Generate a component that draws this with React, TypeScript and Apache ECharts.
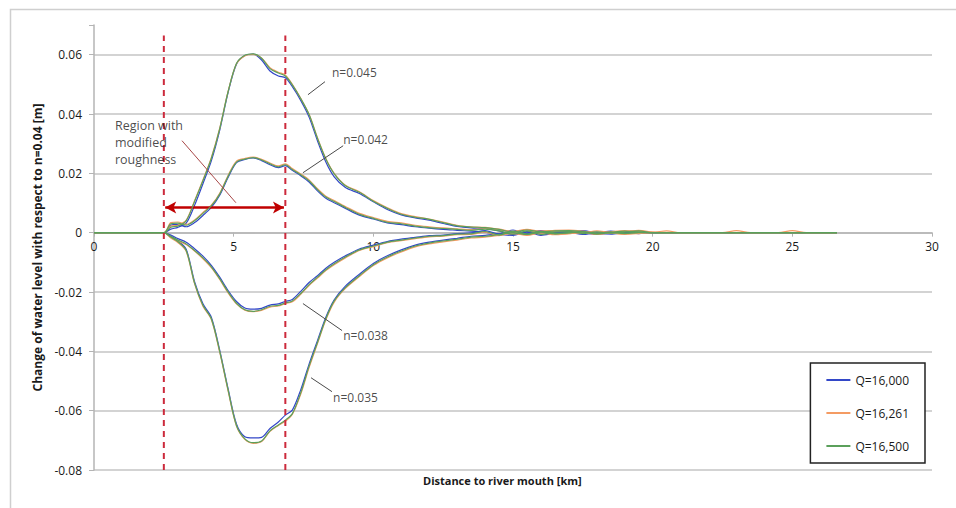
import React, { useEffect, useRef } from "react";
import * as echarts from "echarts";

// Distance to river mouth [km]
const X = [0, 2.5, 2.75, 3.0, 3.3, 3.6, 3.9, 4.2, 4.5, 4.8, 5.1, 5.4, 5.7, 6.0, 6.3, 6.6, 6.85, 7.1, 7.4, 7.7, 8.0, 8.3, 8.6, 9.0, 9.5, 10.0, 10.5, 11.0, 11.5, 12.0, 12.5, 13.0, 13.5, 14.0, 14.5, 15.0, 15.5, 16.0, 16.5, 17.0, 17.5, 18.0, 18.5, 19.0, 19.5, 20.0, 20.5, 21.0, 22.5, 23.0, 23.5, 24.5, 25.0, 25.5, 26.6];

// n = 0.045
const n045_Q16000 = [0, 0, 0.0012, 0.0018, 0.0032, 0.0092, 0.0165, 0.0242, 0.0345, 0.0472, 0.0568, 0.0597, 0.0602, 0.0582, 0.0545, 0.0528, 0.0522, 0.0492, 0.0446, 0.039, 0.031, 0.0238, 0.0188, 0.0152, 0.0132, 0.0104, 0.0078, 0.006, 0.005, 0.0042, 0.0031, 0.0021, 0.0016, 0.0014, 0.0006, -0.0006, 0.0004, -0.0004, 0.0003, 0.0004, 0.0001, -0.0006, -0.0002, 0.0003, -0.0003, 0, 0, 0, 0, 0, 0, 0, 0, 0, 0];
const n045_Q16261 = [0, 0, 0.0022, 0.0025, 0.0042, 0.0108, 0.0178, 0.0253, 0.0352, 0.0476, 0.0569, 0.0596, 0.0601, 0.0589, 0.0556, 0.0541, 0.0532, 0.05, 0.0453, 0.0399, 0.032, 0.025, 0.02, 0.016, 0.0138, 0.0108, 0.0084, 0.0064, 0.0054, 0.0046, 0.0036, 0.0025, 0.002, 0.0018, 0.0012, 0.0004, 0.0011, 0.0005, 0.0008, 0.0009, 0.0005, -0.0002, 0.0003, 0.0007, 0.0004, 0.0002, 0.0006, 0, 0, 0.0007, 0, 0, 0.0007, 0, 0];
const n045_Q16500 = [0, 0, 0.0018, 0.0022, 0.004, 0.0105, 0.0175, 0.025, 0.035, 0.0475, 0.057, 0.0598, 0.0603, 0.0588, 0.0553, 0.0538, 0.0528, 0.0498, 0.0452, 0.0398, 0.0318, 0.0248, 0.0198, 0.0158, 0.0136, 0.0106, 0.0082, 0.0062, 0.0052, 0.0045, 0.0034, 0.0023, 0.0019, 0.0017, 0.0011, 0.0002, 0.0009, 0.0003, 0.0006, 0.0007, 0.0003, -0.0004, 0.0001, 0.0005, 0.0002, 0, 0, 0, 0, 0, 0, 0, 0, 0, 0];

// n = 0.042
const n042_Q16000 = [0, 0, 0.0025, 0.0028, 0.002, 0.0034, 0.0058, 0.0085, 0.0126, 0.0186, 0.0236, 0.0247, 0.0252, 0.0243, 0.0229, 0.0219, 0.0226, 0.021, 0.0192, 0.0171, 0.0141, 0.0116, 0.0101, 0.0082, 0.0059, 0.0046, 0.0033, 0.0027, 0.002, 0.0015, 0.0011, 0.0008, 0.0005, 0.0002, -0.0006, -0.0009, 0.0002, -0.0009, -0.0002, 0.0001, -0.0006, 0, -0.0005, 0, 0.0002, 0, 0, 0, 0, 0, 0, 0, 0, 0, 0];
const n042_Q16261 = [0, 0, 0.0034, 0.0036, 0.0028, 0.0043, 0.0068, 0.0093, 0.0133, 0.0193, 0.0241, 0.025, 0.0255, 0.0247, 0.0235, 0.0225, 0.0232, 0.0216, 0.0198, 0.0178, 0.0148, 0.0123, 0.0108, 0.0088, 0.0065, 0.0051, 0.0038, 0.0033, 0.0025, 0.002, 0.0016, 0.0013, 0.001, 0.0014, 0.0009, 0.0003, 0.001, -0.0002, 0.0005, 0.0007, 0, 0.0006, 0.0001, 0.0004, 0.0008, 0.0002, 0, 0, 0, 0, 0, 0, 0, 0, 0];
const n042_Q16500 = [0, 0, 0.003, 0.0032, 0.0025, 0.004, 0.0065, 0.009, 0.013, 0.019, 0.0238, 0.0248, 0.0253, 0.0245, 0.0232, 0.0222, 0.0229, 0.0213, 0.0195, 0.0175, 0.0145, 0.012, 0.0105, 0.0085, 0.0062, 0.0048, 0.0035, 0.003, 0.0022, 0.0017, 0.0014, 0.0011, 0.0008, 0.0012, 0.0006, -0.0005, 0.0006, -0.0006, 0.0002, 0.0004, -0.0003, 0.0003, -0.0002, 0.0002, 0.0006, 0, 0, 0, 0, 0, 0, 0, 0, 0, 0];

// n = 0.038
const n038_Q16000 = [0, 0, -0.0008, -0.002, -0.0032, -0.0054, -0.0079, -0.011, -0.015, -0.0195, -0.0232, -0.0254, -0.0258, -0.0255, -0.0244, -0.024, -0.0232, -0.0225, -0.0198, -0.0168, -0.0145, -0.012, -0.01, -0.0078, -0.0055, -0.0042, -0.003, -0.0022, -0.0016, -0.001, -0.0008, -0.0003, -0.0001, 0.0007, -0.0004, 0.0009, -0.0002, 0.0007, 0, 0.0002, 0.0006, -0.0001, 0.0004, 0, 0.0004, 0, 0, 0, 0, 0, 0, 0, 0, 0, 0];
const n038_Q16261 = [0, 0, -0.0015, -0.0028, -0.004, -0.0062, -0.0088, -0.0118, -0.0158, -0.0203, -0.024, -0.0261, -0.0266, -0.0262, -0.0251, -0.0247, -0.0239, -0.0233, -0.0208, -0.0178, -0.0153, -0.0128, -0.0108, -0.0085, -0.006, -0.0047, -0.0034, -0.0027, -0.002, -0.0014, -0.0012, -0.0007, -0.0006, 0.0002, -0.001, 0.0002, -0.0007, 0.0002, -0.0005, -0.0003, 0.0001, -0.0006, -0.0001, -0.0005, -0.0001, 0, 0, 0, 0, 0, 0, 0, 0, 0, 0];
const n038_Q16500 = [0, 0, -0.0012, -0.0025, -0.0038, -0.006, -0.0085, -0.0115, -0.0155, -0.02, -0.0238, -0.026, -0.0265, -0.026, -0.0248, -0.0245, -0.0237, -0.023, -0.0205, -0.0175, -0.015, -0.0125, -0.0105, -0.0082, -0.0058, -0.0045, -0.0032, -0.0025, -0.0018, -0.0012, -0.001, -0.0005, -0.0004, 0.0004, -0.0008, 0.0005, -0.0005, 0.0004, -0.0003, -0.0001, 0.0003, -0.0004, 0.0001, -0.0003, 0.0001, 0, 0, 0, 0, 0, 0, 0, 0, 0, 0];

// n = 0.035
const n035_Q16000 = [0, 0, -0.0012, -0.0027, -0.0056, -0.0165, -0.024, -0.0285, -0.0396, -0.0526, -0.0645, -0.0688, -0.0692, -0.069, -0.066, -0.0638, -0.0615, -0.0598, -0.053, -0.0443, -0.0364, -0.0285, -0.0226, -0.018, -0.014, -0.0104, -0.0078, -0.0058, -0.0042, -0.0032, -0.0025, -0.0019, -0.0012, -0.0009, -0.0003, 0.0003, -0.0003, 0.0005, -0.0001, 0.0003, 0.0006, 0.0001, 0.0005, 0.0001, 0.0003, 0, 0, 0, 0, 0, 0, 0, 0, 0, 0];
const n035_Q16261 = [0, 0, -0.0018, -0.0033, -0.0063, -0.0172, -0.0248, -0.0293, -0.0403, -0.0533, -0.0652, -0.0697, -0.071, -0.0704, -0.067, -0.065, -0.0636, -0.0613, -0.0545, -0.0455, -0.0374, -0.0294, -0.0234, -0.0188, -0.0148, -0.0111, -0.0085, -0.0065, -0.0048, -0.0038, -0.0031, -0.0025, -0.0018, -0.0015, -0.0009, -0.0003, -0.0009, -0.0001, -0.0007, -0.0003, 0, -0.0005, -0.0001, -0.0005, -0.0003, 0, 0, 0, 0, 0, 0, 0, 0, 0, 0];
const n035_Q16500 = [0, 0, -0.0015, -0.003, -0.006, -0.017, -0.0245, -0.029, -0.04, -0.053, -0.065, -0.0695, -0.0708, -0.0702, -0.0668, -0.0648, -0.0632, -0.061, -0.054, -0.045, -0.037, -0.029, -0.023, -0.0185, -0.0145, -0.0108, -0.0082, -0.0062, -0.0045, -0.0035, -0.0028, -0.0022, -0.0015, -0.0012, -0.0006, 0, -0.0006, 0.0002, -0.0004, 0, 0.0003, -0.0002, 0.0002, -0.0002, 0, 0, 0, 0, 0, 0, 0, 0, 0, 0, 0];

const Q_NAMES = ["Q=16,000", "Q=16,261", "Q=16,500"];
const Q_COLORS = ["#3347c8", "#f49b63", "#5ba05b"];
const CURVES = [
  [n045_Q16000, n045_Q16261, n045_Q16500],
  [n042_Q16000, n042_Q16261, n042_Q16500],
  [n038_Q16000, n038_Q16261, n038_Q16500],
  [n035_Q16000, n035_Q16261, n035_Q16500],
];

// Region with modified roughness (km)
const REGION = [2.5, 6.85];
const REGION_TOP = 0.0665;
const ARROW_Y = 0.0085;

// annotation labels and leader lines (data coordinates)
const N_LABELS = ["n=0.045", "n=0.042", "n=0.038", "n=0.035"];
const N_LABEL_AT = [[8.52, 0.0539], [8.92, 0.0314], [8.92, -0.0347], [8.56, -0.0556]];
const N_LEADERS = [
  [[8.27, 0.0509], [7.66, 0.0465]],
  [[8.92, 0.0293], [7.48, 0.0202]],
  [[7.48, -0.0239], [8.88, -0.033]],
  [[7.77, -0.0489], [8.52, -0.0536]],
];
const REGION_LABEL = "Region with\nmodified\nroughness";
const REGION_LABEL_AT = [0.75, 0.0303];
const REGION_LEADER = [[3.15, 0.031], [5.08, 0.0101]];

const Y_MIN = -0.08;
const Y_MAX = 0.07;
const FONT = '"Open Sans", "Liberation Sans", sans-serif';

export default function App() {
  const ref = useRef<HTMLDivElement>(null);
  useEffect(() => {
    if (!ref.current) return;
    const chart = echarts.init(ref.current, undefined, { renderer: "svg" });
    const series: any[] = [];
    for (let q = 0; q < 3; q++) {
      CURVES.forEach((c) => {
        series.push({
          type: "line",
          name: Q_NAMES[q],
          data: X.map((x, i) => [x, c[q][i]]),
          symbol: "none",
          smooth: 0.3,
          color: Q_COLORS[q],
          lineStyle: { width: 1.2, color: Q_COLORS[q] },
          silent: true,
          z: 3 + q,
        });
      });
    }
    REGION.forEach((rx, i) => {
      series.push({
        type: "line",
        data: [[rx, Y_MIN], [rx, REGION_TOP]],
        symbol: "none",
        lineStyle: { color: "#cc2a3c", width: 2, type: [6, 5] },
        silent: true,
        z: 8,
        markLine:
          i === 0
            ? {
                silent: true,
                symbol: ["arrow", "arrow"],
                symbolSize: [9, 11],
                label: { show: false },
                lineStyle: { color: "#c00000", width: 2.5, type: "solid" },
                data: [[{ coord: [REGION[0] + 0.05, ARROW_Y] }, { coord: [REGION[1] - 0.05, ARROW_Y] }]],
              }
            : undefined,
      });
    });
    N_LEADERS.forEach((seg) => {
      series.push({
        type: "line",
        data: seg,
        symbol: "none",
        lineStyle: { color: "#4a4a4a", width: 1 },
        silent: true,
        z: 9,
      });
    });
    series.push({
      type: "line",
      data: REGION_LEADER,
      symbol: "none",
      lineStyle: { color: "#a84848", width: 1 },
      silent: true,
      z: 9,
    });
    series.push({
      type: "scatter",
      data: [
        ...N_LABELS.map((t, i) => ({ value: N_LABEL_AT[i], name: t, label: { fontSize: 12 } })),
        { value: REGION_LABEL_AT, name: REGION_LABEL, label: { fontSize: 12.5 } },
      ],
      symbol: "circle",
      symbolSize: 0,
      itemStyle: { color: "rgba(0,0,0,0)" },
      silent: true,
      z: 10,
      label: {
        show: true,
        position: "inside",
        align: "left",
        verticalAlign: "middle",
        formatter: (p: any) => p.name,
        fontFamily: FONT,
        fontSize: 12,
        lineHeight: 17,
        color: "#1a1a1a",
        textBorderWidth: 0,
      },
    });

    chart.setOption({
      animation: false,
      backgroundColor: "#fff",
      grid: { left: 94, right: 24, top: 25, bottom: 38, containLabel: false },
      legend: {
        data: Q_NAMES,
        orient: "vertical",
        right: 31,
        top: 363,
        padding: [10, 16, 10, 16],
        itemGap: 19,
        itemWidth: 24,
        itemHeight: 2,
        icon: "rect",
        borderColor: "#222",
        borderWidth: 1.5,
        backgroundColor: "#fff",
        textStyle: { fontFamily: FONT, fontSize: 12, color: "#1a1a1a", lineHeight: 14 },
      },
      xAxis: {
        type: "value",
        min: 0,
        max: 30,
        interval: 5,
        position: "bottom",
        // axis drawn along the zero line of the y axis
        offset: -((0 - Y_MIN) / (Y_MAX - Y_MIN)) * (508 - 25 - 38),
        axisLine: { onZero: false, lineStyle: { color: "#b4b4b4", width: 1.5 } },
        axisTick: { show: true, length: 4, lineStyle: { color: "#b4b4b4" } },
        axisLabel: { fontFamily: FONT, fontSize: 12, color: "#1a1a1a", margin: 8 },
        splitLine: { show: false },
      },
      yAxis: {
        type: "value",
        min: Y_MIN,
        max: Y_MAX,
        interval: 0.02,
        name: "Change of water level with respect to n=0.04 [m]",
        nameLocation: "middle",
        nameGap: 46,
        nameTextStyle: { fontFamily: FONT, fontSize: 12, fontWeight: "bold", color: "#1a1a1a" },
        axisLine: { show: true, onZero: false, lineStyle: { color: "#b4b4b4", width: 1.5 } },
        axisTick: { show: true, length: 5, lineStyle: { color: "#b4b4b4" } },
        axisLabel: {
          fontFamily: FONT,
          fontSize: 12,
          color: "#1a1a1a",
          margin: 12,
          formatter: (v: number) => (v > 0.065 ? "" : String(Math.round(v * 100) / 100)),
        },
        splitLine: { show: true, showMaxLine: false, lineStyle: { color: "#c4c4c4", width: 1.5 } },
      },
      graphic: [
        {
          type: "rect",
          left: 8,
          top: 7,
          shape: { width: 1000, height: 600 },
          style: { fill: "none", stroke: "#cfcfcf", lineWidth: 1.5 },
          silent: true,
          z: -10,
        },
        {
          type: "text",
          left: 423,
          top: 475,
          style: {
            text: "Distance to river mouth [km]",
            font: 'bold 11px "Open Sans", sans-serif',
            fill: "#1a1a1a",
          },
          silent: true,
        },
      ],
      series,
    });
    return () => chart.dispose();
  }, []);
  return (
    <div
      ref={ref}
      style={{ position: "absolute", left: 0, top: 0, width: 956, height: 508 }}
    />
  );
}
